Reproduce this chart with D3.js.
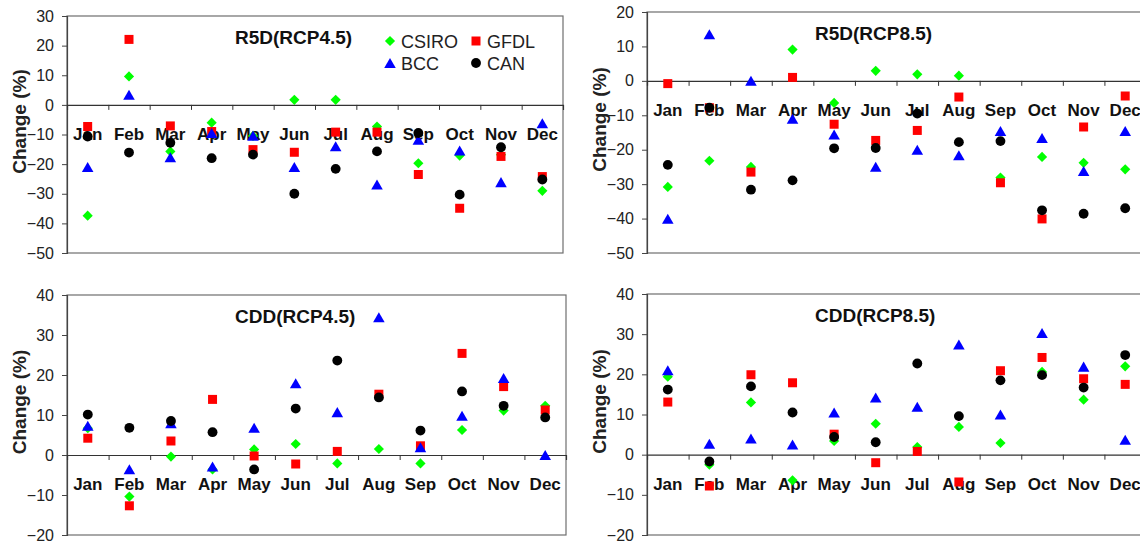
<!DOCTYPE html>
<html><head><meta charset="utf-8">
<script src="https://cdn.jsdelivr.net/npm/d3@7"></script>
<style>
html,body{margin:0;padding:0;background:#fff;}
svg{display:block;font-family:"Liberation Sans",Arial,sans-serif;}
</style></head>
<body>
<svg id="c" width="1140" height="542"></svg>
<script>
const months = ["Jan","Feb","Mar","Apr","May","Jun","Jul","Aug","Sep","Oct","Nov","Dec"];
const seriesNames = ["CSIRO","GFDL","BCC","CAN"];

const r5d45_CSIRO = [-37.4, 9.6, -15.7, -6.0, -10.5, 1.7, 1.7, -7.3, -19.7, -17.1, -16.8, -29.0];
const r5d45_GFDL  = [-7.3, 22.1, -7.1, -9.0, -15.1, -16.0, -9.2, -9.2, -23.5, -34.9, -17.4, -24.2];
const r5d45_BCC   = [-21.0, 3.4, -17.7, -9.5, -10.4, -21.0, -14.0, -26.9, -11.8, -15.4, -26.1, -6.2];
const r5d45_CAN   = [-10.7, -16.1, -12.8, -18.0, -16.8, -30.0, -21.6, -15.7, -9.5, -30.3, -14.3, -25.2];

const r5d85_CSIRO = [-30.8, -23.2, -25.0, 9.1, -6.4, 2.9, 1.9, 1.5, -28.1, -22.1, -23.8, -25.7];
const r5d85_GFDL  = [-0.8, -7.8, -26.5, 1.0, -12.6, -17.3, -14.4, -4.7, -29.6, -40.1, -13.4, -4.4];
const r5d85_BCC   = [-40.1, 13.5, 0.0, -11.0, -15.6, -25.0, -20.0, -21.6, -14.6, -16.6, -26.2, -14.6];
const r5d85_CAN   = [-24.4, -7.8, -31.6, -28.9, -19.6, -19.5, -9.5, -17.8, -17.5, -37.6, -38.6, -37.0];

const cdd45_CSIRO = [6.7, -10.4, -0.4, -3.6, 1.4, 2.75, -2.1, 1.5, -2.1, 6.25, 11.1, 12.3];
const cdd45_GFDL  = [4.2, -12.7, 3.5, 13.9, -0.25, -2.25, 0.9, 15.2, 2.3, 25.4, 17.1, 11.25];
const cdd45_BCC   = [7.3, -3.6, 7.9, -2.9, 6.8, 17.9, 10.7, 34.4, 1.9, 9.8, 19.25, 0.0];
const cdd45_CAN   = [10.1, 6.8, 8.5, 5.7, -3.6, 11.6, 23.6, 14.4, 6.1, 15.9, 12.3, 9.4];

const cdd85_CSIRO = [19.4, -2.5, 13.0, -6.4, 3.4, 7.7, 1.9, 6.9, 2.9, 20.6, 13.7, 22.0];
const cdd85_GFDL  = [13.1, -7.8, 19.9, 17.9, 5.1, -2.0, 0.8, -6.8, 20.9, 24.2, 18.9, 17.5];
const cdd85_BCC   = [21.0, 2.7, 4.0, 2.5, 10.5, 14.2, 11.9, 27.4, 10.0, 30.3, 21.9, 3.7];
const cdd85_CAN   = [16.2, -1.7, 17.0, 10.5, 4.4, 3.1, 22.7, 9.6, 18.5, 19.8, 16.7, 24.8];

const ticksR5D45 = [30,20,10,0,-10,-20,-30,-40,-50];
const ticksR5D85 = [20,10,0,-10,-20,-30,-40,-50];
const ticksCDD   = [40,30,20,10,0,-10,-20];

const titles = ["R5D(RCP4.5)","R5D(RCP8.5)","CDD(RCP4.5)","CDD(RCP8.5)"];
const yLabel = "Change (%)";

const colors = {CSIRO:"#00ff00", GFDL:"#ff0000", BCC:"#0000ff", CAN:"#000000"};

const panels = [
  {title:titles[0], left:67, top:16, right:563, bottom:253, ticks:ticksR5D45,
   data:{CSIRO:r5d45_CSIRO,GFDL:r5d45_GFDL,BCC:r5d45_BCC,CAN:r5d45_CAN}, legend:true},
  {title:titles[1], left:647, top:12, right:1146, bottom:253, ticks:ticksR5D85,
   data:{CSIRO:r5d85_CSIRO,GFDL:r5d85_GFDL,BCC:r5d85_BCC,CAN:r5d85_CAN}},
  {title:titles[2], left:67, top:295, right:566, bottom:535, ticks:ticksCDD,
   data:{CSIRO:cdd45_CSIRO,GFDL:cdd45_GFDL,BCC:cdd45_BCC,CAN:cdd45_CAN}},
  {title:titles[3], left:647, top:294, right:1146, bottom:535, ticks:ticksCDD,
   data:{CSIRO:cdd85_CSIRO,GFDL:cdd85_GFDL,BCC:cdd85_BCC,CAN:cdd85_CAN}}
];

const svg = d3.select("#c");

function drawMarker(g, name, x, y){
  const c = colors[name];
  if(name==="CSIRO"){
    g.append("path").attr("d", d3.symbol(d3.symbolSquare, 52)())
      .attr("transform",`translate(${x},${y}) rotate(45)`).attr("fill",c);
  } else if(name==="GFDL"){
    g.append("path").attr("d", d3.symbol(d3.symbolSquare, 81)())
      .attr("transform",`translate(${x},${y})`).attr("fill",c);
  } else if(name==="BCC"){
    g.append("path").attr("d", d3.symbol(d3.symbolTriangle, 58)())
      .attr("transform",`translate(${x},${y+1.6})`).attr("fill",c);
  } else {
    g.append("path").attr("d", d3.symbol(d3.symbolCircle, 76)())
      .attr("transform",`translate(${x},${y})`).attr("fill",c);
  }
}

panels.forEach(p=>{
  const g = svg.append("g");
  const ext = d3.extent(p.ticks);
  const y = d3.scaleLinear().domain(ext).range([p.bottom, p.top]);
  const x = d3.scaleBand().domain(months).range([p.left, p.right]);
  const xi = d3.scaleLinear().domain([0,12]).range([p.left, p.right]);

  g.append("rect").attr("x",p.left).attr("y",p.top)
    .attr("width",p.right-p.left).attr("height",p.bottom-p.top)
    .attr("fill","none").attr("stroke","#6e6e6e").attr("stroke-width",1.2);

  const ya = g.append("g").attr("transform",`translate(${p.left},0)`)
    .call(d3.axisLeft(y).tickValues(p.ticks).tickSize(5).tickPadding(8).tickFormat(d3.format("d")));
  ya.select(".domain").attr("stroke","#444").attr("stroke-width",1.2);
  ya.selectAll(".tick line").attr("stroke","#444");
  ya.selectAll("text").attr("font-size",16).attr("fill","#222")
    .attr("font-family","'Liberation Sans',Arial,sans-serif");

  const xa = g.append("g").attr("transform",`translate(0,${y(0)})`)
    .call(d3.axisBottom(xi).tickValues(d3.range(1,12)).tickSize(5).tickFormat(""));
  xa.select(".domain").attr("stroke","#333").attr("stroke-width",1.2);
  xa.selectAll(".tick line").attr("stroke","#333");

  g.selectAll("text.mon").data(months).enter().append("text").attr("class","mon")
    .attr("x",d=>x(d)+x.bandwidth()/2).attr("y",y(0)+35)
    .attr("text-anchor","middle").attr("font-size",17).attr("font-weight","bold")
    .attr("fill","#111").text(d=>d);

  const cy = (p.top+p.bottom)/2 - 13;
  g.append("text").attr("transform",`translate(${p.left-41},${cy}) rotate(-90)`)
    .attr("text-anchor","middle").attr("font-size",19).attr("font-weight","bold")
    .attr("fill","#222").text(yLabel);

  g.append("text").attr("x",p.left+168).attr("y",p.top+28)
    .attr("font-size",19).attr("font-weight","bold").attr("fill","#111").text(p.title);

  const pg = g.append("g");
  seriesNames.forEach(s=>{
    p.data[s].forEach((v,i)=>{
      drawMarker(pg, s, x(months[i])+x.bandwidth()/2, y(v));
    });
  });

  if(p.legend){
    const lg = g.append("g");
    const items = [
      {n:"CSIRO", mx:390, my:41},
      {n:"GFDL", mx:476, my:41},
      {n:"BCC", mx:390, my:63},
      {n:"CAN", mx:476, my:63}
    ];
    items.forEach(it=>{
      drawMarker(lg, it.n, it.mx, it.my);
      lg.append("text").attr("x",it.mx+11).attr("y",it.my+6.5)
        .attr("font-size",18).attr("fill","#222").text(it.n);
    });
  }
});
</script>
</body></html>
